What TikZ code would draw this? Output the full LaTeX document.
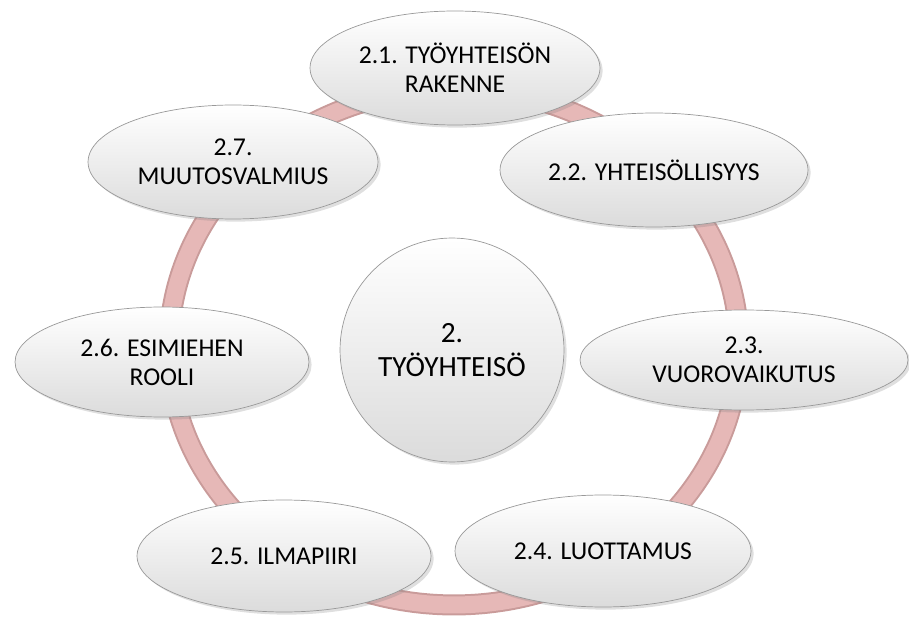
\documentclass[tikz,border=0pt]{standalone}
\usepackage{fontspec}
\setmainfont{Carlito}
\usetikzlibrary{shapes.geometric, shadows}

\definecolor{ringfill}{HTML}{E6B8B7}
\definecolor{ringedge}{HTML}{C99B9A}

\begin{document}
\begin{tikzpicture}[x=0.02cm, y=-0.02cm,
        bubble/.style={ellipse, draw=black!40, thin, top color=white, middle color=black!4, bottom color=black!14,
            inner sep=0pt, align=center, font=\fontsize{14.6}{16.5}\selectfont,
            drop shadow={opacity=0.25, shadow xshift=1.5pt, shadow yshift=-1.5pt}},
        hub/.style={bubble, circle, minimum size=4.48cm, font=\fontsize{16.7}{19}\selectfont}]
    	\useasboundingbox (0,0) rectangle (909,621);
    	% ring behind the bubbles
    	\draw[ringedge, line width=0.42cm] (454,347) ellipse [x radius=5.7cm, y radius=5.16cm];
    	\draw[ringfill, line width=0.34cm] (454,347) ellipse [x radius=5.7cm, y radius=5.16cm];
    	\node[bubble, minimum width=5.8cm, minimum height=2.28cm] (1) at (455,68) {2.1. TYÖYHTEISÖN\\RAKENNE};
    	\node[bubble, minimum width=6.16cm, minimum height=2.28cm] (2) at (654,170) {2.2. YHTEISÖLLISYYS};
    	\node[bubble, minimum width=6.56cm, minimum height=2.0cm] (3) at (744,360) {2.3.\\VUOROVAIKUTUS};
    	\node[bubble, minimum width=5.92cm, minimum height=2.24cm] (4) at (603,551) {2.4. LUOTTAMUS};
    	\node[bubble, minimum width=5.88cm, minimum height=2.24cm] (5) at (284,556) {2.5. ILMAPIIRI};
    	\node[bubble, minimum width=5.88cm, minimum height=2.2cm] (6) at (162,362) {2.6. ESIMIEHEN\\ROOLI};
    	\node[bubble, minimum width=5.8cm, minimum height=2.28cm] (7) at (233,162) {2.7.\\MUUTOSVALMIUS};
    	\node[hub] (0) at (452,350) {2.\\TYÖYHTEISÖ};
    \end{tikzpicture}
\end{document}
